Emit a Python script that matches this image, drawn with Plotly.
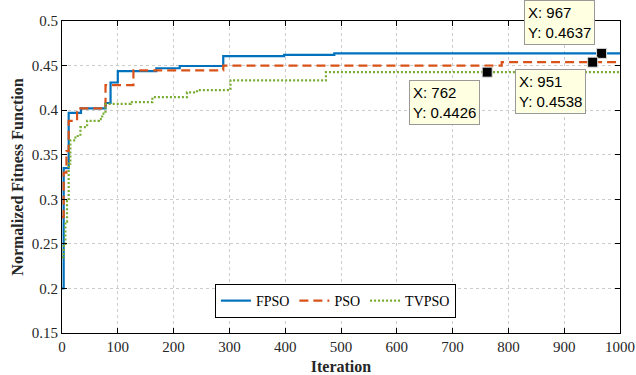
import plotly.graph_objects as go

# FPSO (stair-step best fitness)
fpso_iter = [0, 3, 12, 34, 78, 87, 100, 169, 211, 289, 398, 488, 1000]
fpso_val = [0.200, 0.335, 0.397, 0.402, 0.408, 0.431, 0.4438, 0.4470, 0.4495, 0.4605, 0.4620, 0.4637, 0.4637]

# PSO
pso_iter = [0, 3, 8, 12, 27, 78, 128, 289, 788, 1000]
pso_val = [0.280, 0.330, 0.354, 0.388, 0.402, 0.428, 0.4447, 0.4500, 0.4538, 0.4538]

# TVPSO
tv_iter = [0, 3, 6, 9, 12, 15, 24, 33, 45, 66, 72, 78, 123, 162, 224, 242, 302, 473, 1000]
tv_val = [0.235, 0.250, 0.275, 0.298, 0.340, 0.366, 0.371, 0.381, 0.388, 0.390, 0.396, 0.407,
          0.409, 0.4146, 0.420, 0.4225, 0.4334, 0.4426, 0.4426]

# Data tips
tip_x = [967, 762, 951]
tip_y = [0.4637, 0.4426, 0.4538]

x_ticks = [0, 100, 200, 300, 400, 500, 600, 700, 800, 900, 1000]
y_ticks = [0.15, 0.2, 0.25, 0.3, 0.35, 0.4, 0.45, 0.5]
y_tick_text = ["0.15", "0.2", "0.25", "0.3", "0.35", "0.4", "0.45", "0.5"]

serif = "Liberation Serif, Times New Roman, serif"

fig = go.Figure()
fig.add_trace(go.Scatter(x=fpso_iter, y=fpso_val, mode="lines", name="FPSO",
                         line=dict(color="#0072BD", width=2.2, shape="hv")))
fig.add_trace(go.Scatter(x=pso_iter, y=pso_val, mode="lines", name="PSO",
                         line=dict(color="#D95319", width=2.2, shape="hv", dash="9px,5px")))
fig.add_trace(go.Scatter(x=tv_iter, y=tv_val, mode="lines", name="TVPSO",
                         line=dict(color="#77AC30", width=2.2, shape="hv", dash="2px,2px")))
fig.add_trace(go.Scatter(x=tip_x, y=tip_y, mode="markers", showlegend=False,
                         marker=dict(symbol="square", size=10, color="black",
                                     line=dict(color="#dddddd", width=1))))

shifts = [dict(xanchor="right", yanchor="bottom", xshift=-7, yshift=8),
          dict(xanchor="right", yanchor="top", xshift=-7, yshift=-8),
          dict(xanchor="right", yanchor="top", xshift=-7, yshift=-7)]
for xv, yv, s in zip(tip_x, tip_y, shifts):
    fig.add_annotation(x=xv, y=yv, xref="x", yref="y", showarrow=False,
                       text=f"X: {xv}<br>Y: {yv:.4f}", align="left",
                       font=dict(family="Liberation Sans, Arial, sans-serif", size=15, color="black"),
                       bgcolor="#FFFFE1", bordercolor="#999999", borderwidth=1, borderpad=3,
                       **s)

axis_common = dict(showline=True, linecolor="black", linewidth=1, mirror="ticks",
                   ticks="inside", ticklen=5, tickcolor="black", automargin=False,
                   showgrid=True, gridcolor="#cccccc", griddash="dot", gridwidth=1,
                   zeroline=False, tickfont=dict(family=serif, size=15, color="#262626"))

fig.update_xaxes(range=[0, 1000], tickvals=x_ticks,
                 title=dict(text="<b>Iteration</b>", font=dict(family=serif, size=16, color="#262626"),
                            standoff=6),
                 **axis_common)
fig.update_yaxes(range=[0.15, 0.5], tickvals=y_ticks, ticktext=y_tick_text,
                 title=dict(text="<b>Normalized Fitness Function</b>",
                            font=dict(family=serif, size=16, color="#262626"), standoff=4),
                 **axis_common)

fig.update_layout(
    width=636, height=375,
    margin=dict(l=62, r=16, t=21, b=42),
    plot_bgcolor="white", paper_bgcolor="white",
    legend=dict(orientation="h", x=0.49, y=0.048, xanchor="center", yanchor="bottom",
                bgcolor="white", bordercolor="black", borderwidth=1,
                font=dict(family=serif, size=14, color="black"),
                itemwidth=30, tracegroupgap=0),
    showlegend=True,
)

fig.write_html("out.html", config={"displayModeBar": False},
               post_script="document.body.style.margin='0px';document.body.style.padding='0px';")
